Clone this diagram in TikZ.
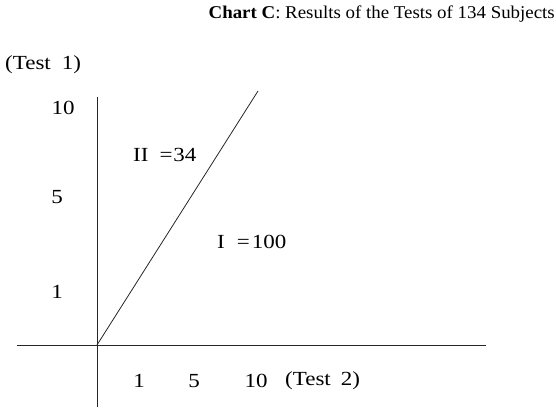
\documentclass[tikz,border=0pt]{standalone}
\usepackage{fontspec}
\setmainfont{Liberation Serif}
\newfontfamily\lblfont[FakeStretch=1.15]{Liberation Serif}
\newfontfamily\ttlfont[FakeStretch=1.05]{Liberation Serif}
\begin{document}
\begin{tikzpicture}[x=1pt,y=-1pt,
  lbl/.style={inner sep=0pt,font=\lblfont\fontsize{20}{24}\selectfont},
  ttl/.style={inner sep=0pt,font=\ttlfont\fontsize{18}{22}\selectfont},
  axis/.style={line width=0.9pt,black!85},
  diag/.style={line width=0.8pt,black!85}]
\useasboundingbox (0,0) rectangle (556,407);
\node[ttl,anchor=east] (title) at (555,14) {\textbf{Chart C}: Results of the Tests of 134 Subjects};
\node[lbl,anchor=west] (t1) at (5,65) {(Test\hspace{0.55em}1)};
\coordinate (o) at (97,345);
\coordinate (ytop) at (97,97);
\coordinate (ybot) at (97,407);
\coordinate (xl) at (17,345);
\coordinate (xr) at (486,345);
\coordinate (dtop) at (258,91);
\draw[axis] (ytop) -- (ybot);
\draw[axis] (xl) -- (xr);
\draw[diag] (o) -- (dtop);
\node[lbl] (y10) at (63,108) {10};
\node[lbl] (y5) at (57,197) {5};
\node[lbl] (y1) at (57,292) {1};
\node[lbl,anchor=west] (r2) at (133,155) {II\hspace{0.55em}=\hspace{0.05em}34};
\node[lbl,anchor=west] (r1) at (217,242) {I\hspace{0.6em}=\hspace{0.1em}100};
\node[lbl] (x1) at (139,381) {1};
\node[lbl] (x5) at (194,381) {5};
\node[lbl] (x10) at (256,381) {10};
\node[lbl,anchor=west] (t2) at (285,381) {(Test\hspace{0.5em}2)};
\end{tikzpicture}
\end{document}
